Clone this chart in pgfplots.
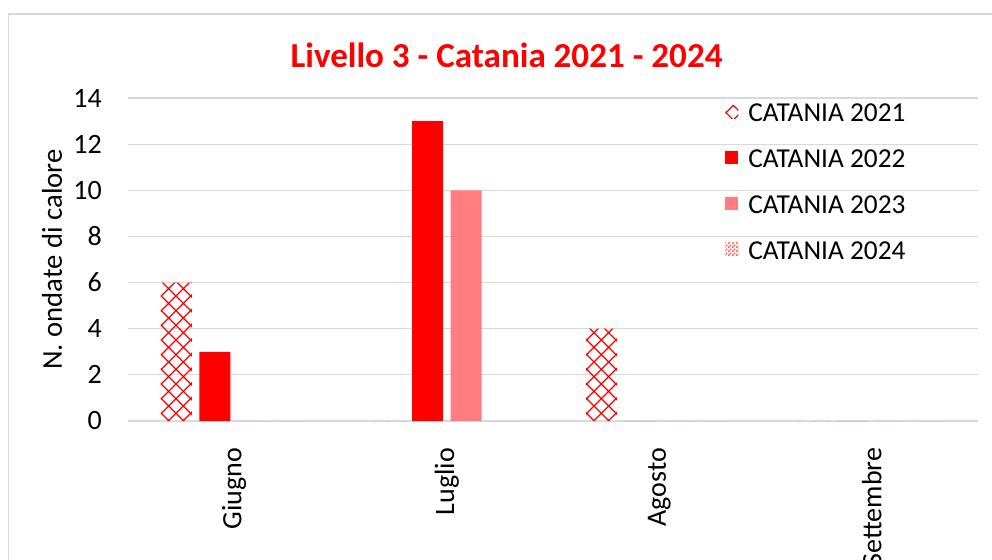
\documentclass[border=0pt]{standalone}
\usepackage{pgfplots}
\pgfplotsset{compat=1.18}
\usepackage{fontspec}
\setmainfont{Carlito}
\usetikzlibrary{patterns}

\definecolor{exred}{HTML}{FF0000}
\definecolor{exsalmon}{HTML}{FF7C80}
\definecolor{exgrid}{HTML}{D9D9D9}
\definecolor{exchk}{HTML}{FF5A5A}

% diamond lattice (2021) and small checkerboard (2024)
\pgfdeclarepatternformonly{diamonds}{\pgfqpoint{-1pt}{-1pt}}{\pgfqpoint{12pt}{12pt}}{\pgfqpoint{11pt}{11pt}}{%
  \pgfsetlinewidth{0.9pt}%
  \pgfpathmoveto{\pgfqpoint{0pt}{0pt}}\pgfpathlineto{\pgfqpoint{11pt}{11pt}}%
  \pgfpathmoveto{\pgfqpoint{0pt}{11pt}}\pgfpathlineto{\pgfqpoint{11pt}{0pt}}%
  \pgfusepath{stroke}}
\pgfdeclarepatternformonly{smallchecker}{\pgfqpoint{0pt}{0pt}}{\pgfqpoint{3pt}{3pt}}{\pgfqpoint{3pt}{3pt}}{%
  \pgfpathrectangle{\pgfqpoint{0pt}{0pt}}{\pgfqpoint{1.5pt}{1.5pt}}%
  \pgfpathrectangle{\pgfqpoint{1.5pt}{1.5pt}}{\pgfqpoint{1.5pt}{1.5pt}}%
  \pgfusepath{fill}}

\newcommand{\lgs}{\rule[-2.4pt]{0pt}{19.4pt}}

\begin{document}
\begin{tikzpicture}
\clip (-96pt,-104.25pt) rectangle (648pt,315.75pt);
\draw[exgrid, line width=1.1pt] (-89.6pt,-130pt) -- (-89.6pt,305.25pt) -- (670pt,305.25pt);
\begin{axis}[
    at={(0,0)}, anchor=south west,
    scale only axis,
    width=637.5pt, height=242.25pt,
    ybar=5.625pt, bar width=23.25pt,
    xmin=-0.5, xmax=3.5, ymin=0, ymax=14,
    xtick={0,1,2,3},
    xticklabels={Giugno,Luglio,Agosto,Settembre},
    ytick={0,2,...,14},
    major tick length=0pt,
    axis line style={draw=none},
    ymajorgrids=true,
    grid style={exgrid, line width=0.9pt},
    /pgf/number format/assume math mode=true,
    tick label style={font=\fontsize{21}{25}\selectfont},
    xticklabel style={rotate=90, anchor=east, inner sep=0pt},
    xticklabel shift=20pt,
    yticklabel style={anchor=east, inner sep=0pt},
    yticklabel shift=19.5pt,
    title={Livello 3 - Catania 2021 - 2024},
    title style={at={(axis description cs:0.4453,1)}, anchor=base, yshift=16.5pt,
        inner sep=0pt, text=exred, font=\fontsize{26.3}{31}\selectfont\bfseries},
    ylabel={N. ondate di calore},
    every axis y label/.style={at={(axis description cs:-0.0894,0.5)},
        rotate=90, anchor=center, font=\fontsize{21.5}{25}\selectfont},
    legend style={at={(axis description cs:0.7024,0.997)}, anchor=north west,
        draw=none, fill=none, inner sep=0pt, row sep=15.8pt, column sep=7.5pt,
        font=\fontsize{20.5}{24}\selectfont, nodes={inner sep=0pt}},
    legend cell align=left,
    legend image code/.code={\fill[#1] (0pt,-4.875pt) rectangle (9.75pt,4.875pt);},
]
\addplot[draw=none, pattern=diamonds, pattern color=exred]
    coordinates {(0,6) (1,0) (2,4) (3,0)};
\addlegendentry{\lgs CATANIA 2021}
\addplot[draw=none, fill=exred]
    coordinates {(0,3) (1,13) (2,0) (3,0)};
\addlegendentry{\lgs CATANIA 2022}
\addplot[draw=none, fill=exsalmon]
    coordinates {(0,0) (1,10) (2,0) (3,0)};
\addlegendentry{\lgs CATANIA 2023}
\addplot[draw=none, pattern=smallchecker, pattern color=exchk]
    coordinates {(0,0) (1,0) (2,0) (3,0)};
\addlegendentry{\lgs CATANIA 2024}
\end{axis}
\end{tikzpicture}
\end{document}
